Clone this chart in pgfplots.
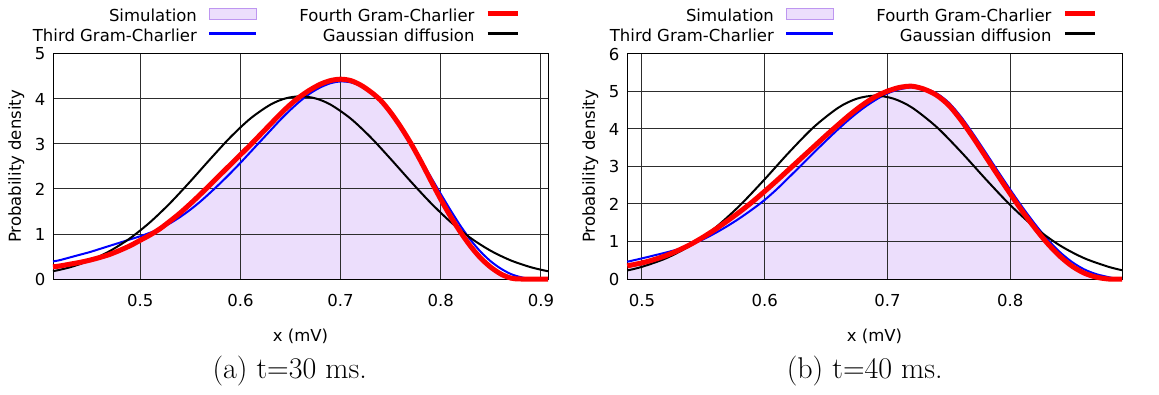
\documentclass[border=0pt]{standalone}
\usepackage{fontspec}
\usepackage{pgfplots}
\pgfplotsset{compat=1.18}
\newfontfamily\dv{DejaVu Sans}
\newcommand\axfont{\dv\fontsize{16.5}{19}\selectfont}
\definecolor{simfill}{RGB}{236,222,252}
\definecolor{simedge}{RGB}{190,150,240}
\definecolor{gridc}{RGB}{45,45,45}

\pgfplotsset{
  gcaxis/.style={
    scale only axis, width=495pt, height=225pt, anchor=south west,
    ymin=0, clip=false, set layers,
    axis line style={line width=1pt},
    grid=major, major grid style={gridc, line width=1pt},
    tick style={draw=none},
    tick label style={font=\axfont},
    /pgf/number format/assume math mode=true,
    xticklabel style={yshift=-11.5pt},
    yticklabel style={xshift=-4.2pt},
    xlabel={x (mV)}, ylabel={Probability density},
    every axis x label/.style={at={(axis description cs:0.5,-0.2769)}, anchor=base, font=\axfont},
    every axis y label/.style={at={(axis description cs:-0.074,0.5)}, rotate=90, anchor=center, font=\axfont},
    legend columns=2, legend cell align=right, legend plot pos=right,
    legend style={draw=none, fill=none, inner sep=0pt, outer sep=0pt,
      anchor=north east, row sep=4pt,
      nodes={inner sep=0pt, text height=12pt, text depth=4pt, font=\axfont},
      /tikz/every odd column/.append style={column sep=11pt},
      /tikz/every even column/.append style={column sep=42pt}},
  },
  legsim/.style={legend image code/.code={\draw[fill=simfill, draw=simedge, line width=1pt] (0pt,-1.5pt) rectangle (47pt,9.2pt);}},
  legthird/.style={legend image code/.code={\draw[blue, line width=2.5pt] (0pt,4pt) -- (47pt,4pt);}},
  legfourth/.style={legend image code/.code={\draw[red, line width=4.5pt] (0pt,4pt) -- (30pt,4pt);}},
  leggauss/.style={legend image code/.code={\draw[black, line width=2.5pt] (0pt,4pt) -- (30pt,4pt);}},
  simarea/.style={fill=simfill, draw=none, forget plot, on layer=axis background, smooth},
  gaussline/.style={black, line width=2pt, smooth, line join=round, forget plot},
  thirdline/.style={blue, line width=2pt, smooth, line join=round, forget plot},
  fourthline/.style={red, line width=5pt, smooth, line join=round, forget plot},
}

% t = 30 ms
\pgfplotstableread{
x y
0.413 0.26
0.42 0.28
0.43 0.32
0.44 0.36
0.45 0.41
0.46 0.47
0.47 0.54
0.48 0.63
0.49 0.73
0.50 0.84
0.51 0.96
0.52 1.10
0.53 1.27
0.54 1.45
0.55 1.65
0.56 1.86
0.57 2.08
0.58 2.30
0.59 2.52
0.60 2.74
0.61 2.96
0.62 3.19
0.63 3.42
0.64 3.64
0.65 3.85
0.66 4.03
0.67 4.18
0.68 4.30
0.69 4.37
0.70 4.40
0.71 4.37
0.72 4.27
0.73 4.12
0.74 3.93
0.75 3.66
0.76 3.34
0.77 2.97
0.78 2.57
0.79 2.14
0.80 1.71
0.81 1.32
0.82 0.97
0.83 0.66
0.84 0.40
0.85 0.21
0.86 0.08
0.87 0.01
0.88 0.00
0.907 0.00
}\simA
\pgfplotstableread{
x y
0.413 0.39
0.42 0.42
0.43 0.48
0.44 0.54
0.45 0.60
0.46 0.67
0.47 0.74
0.48 0.81
0.49 0.88
0.50 0.95
0.51 1.03
0.52 1.12
0.53 1.24
0.54 1.38
0.55 1.54
0.56 1.72
0.57 1.92
0.58 2.13
0.59 2.35
0.60 2.58
0.61 2.82
0.62 3.06
0.63 3.30
0.64 3.54
0.65 3.76
0.66 3.96
0.67 4.13
0.68 4.26
0.69 4.35
0.70 4.39
0.71 4.37
0.72 4.29
0.73 4.15
0.74 3.95
0.75 3.70
0.76 3.39
0.77 3.04
0.78 2.66
0.79 2.27
0.80 1.89
0.81 1.52
0.82 1.17
0.83 0.86
0.84 0.60
0.85 0.39
0.86 0.23
0.87 0.11
0.88 0.04
0.89 0.00
0.907 0.00
}\thirdA
\pgfplotstableread{
x y
0.413 0.27
0.42 0.29
0.43 0.33
0.44 0.37
0.45 0.42
0.46 0.48
0.47 0.55
0.48 0.64
0.49 0.74
0.50 0.86
0.51 0.98
0.52 1.12
0.53 1.29
0.54 1.47
0.55 1.67
0.56 1.88
0.57 2.10
0.58 2.32
0.59 2.54
0.60 2.76
0.61 2.98
0.62 3.21
0.63 3.44
0.64 3.67
0.65 3.88
0.66 4.06
0.67 4.21
0.68 4.33
0.69 4.41
0.70 4.44
0.71 4.41
0.72 4.31
0.73 4.16
0.74 3.97
0.75 3.70
0.76 3.38
0.77 3.02
0.78 2.62
0.79 2.19
0.80 1.77
0.81 1.38
0.82 1.03
0.83 0.72
0.84 0.46
0.85 0.26
0.86 0.11
0.87 0.02
0.88 0.00
0.907 0.00
}\fourthA
\pgfplotstableread{
x y
0.413 0.172
0.43 0.261
0.45 0.412
0.47 0.625
0.49 0.907
0.51 1.264
0.53 1.690
0.55 2.168
0.57 2.667
0.59 3.149
0.61 3.566
0.63 3.875
0.645 4.013
0.66 4.060
0.675 4.013
0.69 3.875
0.71 3.566
0.73 3.149
0.75 2.667
0.77 2.168
0.79 1.690
0.81 1.264
0.83 0.907
0.85 0.625
0.87 0.412
0.89 0.261
0.907 0.172
}\gaussA

% t = 40 ms
\pgfplotstableread{
x y
0.488 0.33
0.50 0.41
0.51 0.50
0.52 0.61
0.53 0.75
0.54 0.91
0.55 1.10
0.56 1.31
0.57 1.54
0.58 1.78
0.59 2.04
0.60 2.31
0.61 2.60
0.62 2.90
0.63 3.20
0.64 3.50
0.65 3.80
0.66 4.09
0.67 4.36
0.68 4.61
0.69 4.82
0.70 4.97
0.71 5.07
0.72 5.10
0.73 5.02
0.74 4.86
0.75 4.58
0.76 4.18
0.77 3.71
0.78 3.21
0.79 2.71
0.80 2.22
0.81 1.75
0.82 1.31
0.83 0.91
0.84 0.57
0.85 0.30
0.86 0.12
0.87 0.03
0.88 0.00
0.891 0.00
}\simB
\pgfplotstableread{
x y
0.488 0.46
0.50 0.55
0.51 0.63
0.52 0.71
0.53 0.80
0.54 0.92
0.55 1.06
0.56 1.23
0.57 1.42
0.58 1.63
0.59 1.86
0.60 2.11
0.61 2.40
0.62 2.72
0.63 3.04
0.64 3.37
0.65 3.69
0.66 4.00
0.67 4.29
0.68 4.55
0.69 4.77
0.70 4.95
0.71 5.06
0.72 5.11
0.73 5.08
0.74 4.95
0.75 4.70
0.76 4.32
0.77 3.86
0.78 3.37
0.79 2.87
0.80 2.38
0.81 1.91
0.82 1.47
0.83 1.07
0.84 0.73
0.85 0.46
0.86 0.26
0.87 0.13
0.88 0.05
0.886 0.01
0.891 0.00
}\thirdB
\pgfplotstableread{
x y
0.488 0.35
0.50 0.43
0.51 0.52
0.52 0.63
0.53 0.77
0.54 0.93
0.55 1.12
0.56 1.33
0.57 1.56
0.58 1.80
0.59 2.06
0.60 2.34
0.61 2.63
0.62 2.93
0.63 3.23
0.64 3.53
0.65 3.83
0.66 4.12
0.67 4.40
0.68 4.65
0.69 4.86
0.70 5.01
0.71 5.11
0.72 5.14
0.73 5.06
0.74 4.90
0.75 4.63
0.76 4.23
0.77 3.76
0.78 3.26
0.79 2.76
0.80 2.27
0.81 1.80
0.82 1.36
0.83 0.96
0.84 0.62
0.85 0.35
0.86 0.16
0.87 0.05
0.88 0.00
0.891 0.00
}\fourthB
\pgfplotstableread{
x y
0.488 0.228
0.50 0.325
0.52 0.558
0.54 0.903
0.56 1.375
0.58 1.971
0.60 2.662
0.62 3.385
0.64 4.053
0.66 4.570
0.675 4.808
0.69 4.890
0.705 4.808
0.72 4.570
0.74 4.053
0.76 3.385
0.78 2.662
0.80 1.971
0.82 1.375
0.84 0.903
0.86 0.558
0.88 0.325
0.891 0.235
}\gaussB

\begin{document}
\begin{tikzpicture}[x=1pt,y=1pt]

\begin{axis}[gcaxis, at={(53pt,115pt)},
  xmin=0.413, xmax=0.907, ymax=5,
  xtick={0.5,0.6,0.7,0.8,0.9}, ytick={0,1,2,3,4,5},
  legend style={at={(axis description cs:0.9434,1.2053)}}]
  \addlegendimage{legsim}\addlegendentry{Simulation}
  \addlegendimage{legfourth}\addlegendentry{Fourth Gram-Charlier}
  \addlegendimage{legthird}\addlegendentry{Third Gram-Charlier}
  \addlegendimage{leggauss}\addlegendentry{Gaussian diffusion}
  \addplot[simarea] table {\simA} \closedcycle;
  \addplot[thirdline] table {\thirdA};
  \addplot[gaussline] table {\gaussA};
  \addplot[fourthline] table {\fourthA};
\end{axis}

\begin{axis}[gcaxis, at={(627pt,115pt)},
  xmin=0.4878, xmax=0.891, ymax=6,
  xtick={0.5,0.6,0.7,0.8}, ytick={0,1,2,3,4,5,6},
  legend style={at={(axis description cs:0.9495,1.2053)}}]
  \addlegendimage{legsim}\addlegendentry{Simulation}
  \addlegendimage{legfourth}\addlegendentry{Fourth Gram-Charlier}
  \addlegendimage{legthird}\addlegendentry{Third Gram-Charlier}
  \addlegendimage{leggauss}\addlegendentry{Gaussian diffusion}
  \addplot[simarea] table {\simB} \closedcycle;
  \addplot[thirdline] table {\thirdB};
  \addplot[gaussline] table {\gaussB};
  \addplot[fourthline] table {\fourthB};
\end{axis}

\node[anchor=base, inner sep=0pt, font=\fontsize{30}{36}\selectfont] at (289.7,15.7) {(a) t=30 ms.};
\node[anchor=base, inner sep=0pt, font=\fontsize{30}{36}\selectfont] at (864.7,15.7) {(b) t=40 ms.};

\pgfresetboundingbox
\useasboundingbox (0,0) rectangle (1159,394);
\end{tikzpicture}
\end{document}
